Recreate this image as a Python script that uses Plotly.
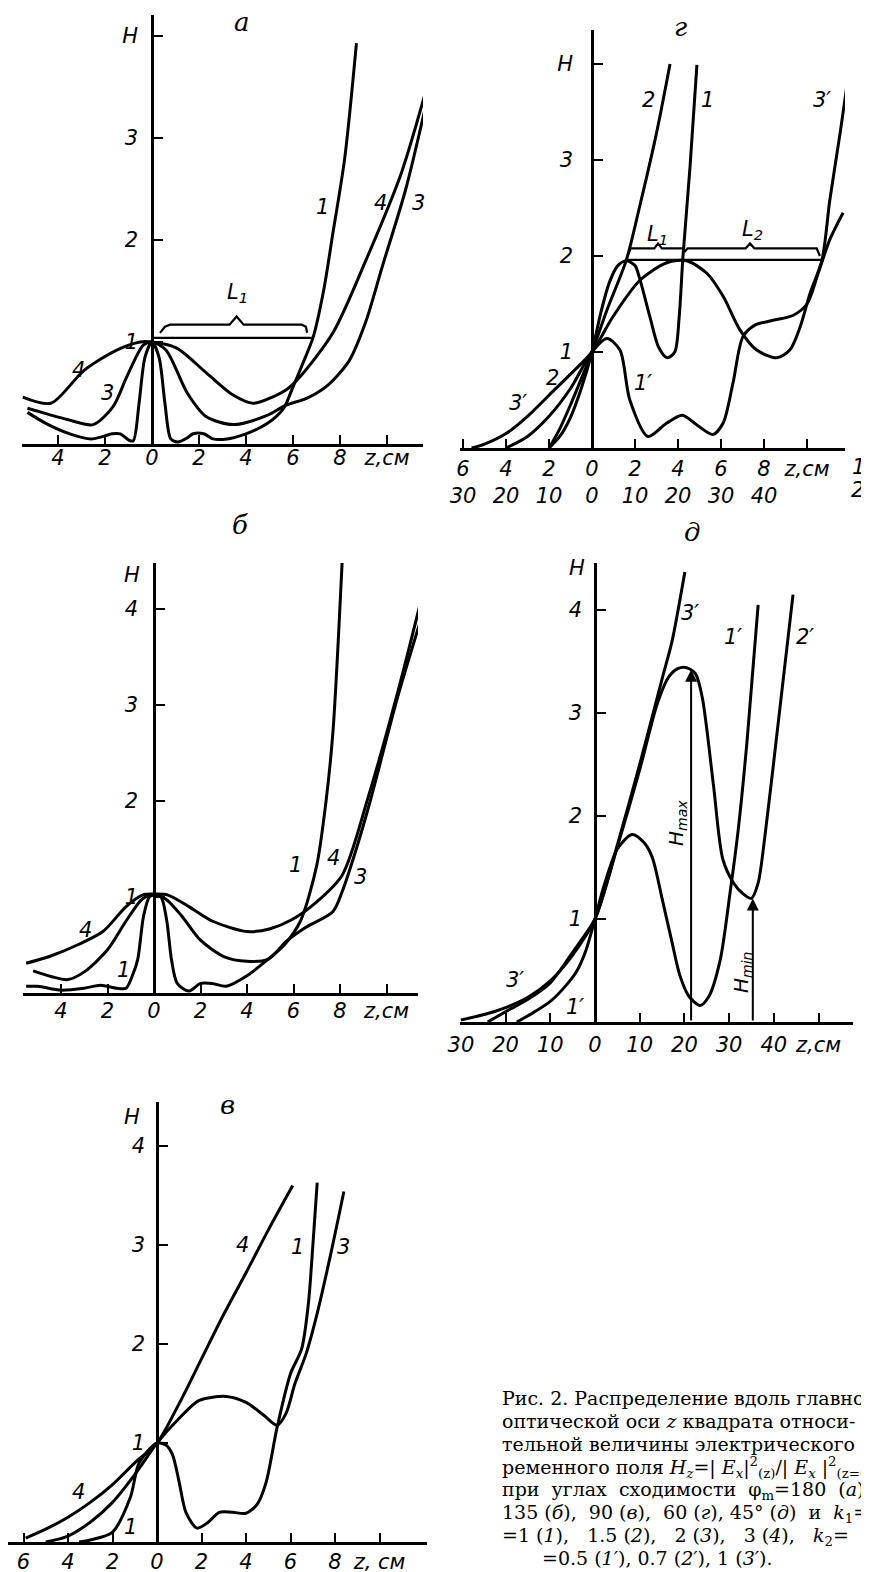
import plotly.graph_objects as go

W, HT = 869, 1572
OX, OY = 8, 8   # page body margin compensation

# ---------------- DATA ----------------
# panel а  (z, cm ; H)
a_z1 = [-5.3, -4.5, -3.5, -2.6, -2.0, -1.7, -1.35, -1.0, -0.8, -0.55, -0.3, 0.0, 0.3, 0.55, 0.8, 1.1, 1.5, 1.75, 2.2, 2.6, 3.2, 4.0, 4.9, 5.6, 6.0, 6.4, 6.86, 7.3, 7.7, 8.2, 8.7]
a_h1 = [0.31, 0.2, 0.1, 0.05, 0.08, 0.1, 0.1, 0.04, 0.03, 0.4, 0.85, 1.0, 0.85, 0.4, 0.05, 0.02, 0.06, 0.1, 0.1, 0.05, 0.05, 0.1, 0.2, 0.35, 0.56, 0.78, 1.05, 1.5, 2.07, 2.8, 3.93]
a_z3 = [-5.3, -4.4, -3.6, -2.5, -1.65, -1.07, -0.37, 0.0, 0.6, 1.5, 2.3, 3.45, 4.9, 5.7, 6.6, 7.5, 8.4, 9.1, 9.8, 10.8, 11.8]
a_h3 = [0.35, 0.29, 0.24, 0.19, 0.37, 0.66, 0.97, 1.0, 0.92, 0.5, 0.27, 0.19, 0.28, 0.38, 0.45, 0.58, 0.82, 1.2, 1.74, 2.5, 3.47]
a_z4 = [-5.5, -4.3, -2.9, -1.5, -0.5, 0.0, 1.05, 2.3, 3.45, 4.3, 5.7, 6.3, 7.7, 9.1, 10.6, 11.7]
a_h4 = [0.46, 0.4, 0.72, 0.92, 1.0, 1.0, 0.94, 0.7, 0.48, 0.4, 0.53, 0.66, 1.09, 1.8, 2.65, 3.5]

# panel г  (curves 1, 2: upper z-scale, cm ; curves 1', 3': lower z-scale, cm)
g_z1 = [-2.0, -1.5, -1.0, -0.5, 0.0, 0.4, 0.8, 1.2, 1.6, 2.0, 2.2, 2.7, 3.1, 3.5, 3.85, 4.05, 4.23, 4.56, 4.88]
g_h1 = [0.0, 0.12, 0.32, 0.62, 1.0, 1.4, 1.72, 1.9, 1.95, 1.9, 1.78, 1.36, 1.05, 0.94, 1.0, 1.35, 1.99, 2.93, 3.99]
g_z2 = [-2.0, -1.5, -1.0, -0.5, 0.0, 0.7, 1.6, 2.2, 3.0, 3.63]
g_h2 = [0.0, 0.2, 0.45, 0.72, 1.0, 1.44, 1.96, 2.5, 3.28, 4.0]
g_z1p = [-20, -15, -10, -5, 0, 3.5, 6.5, 8.8, 13, 17.4, 21, 24.4, 28.1, 30.5, 32.8, 35.1, 37.9, 42.1, 46.7, 50, 52.6, 55.3, 58.4]
g_h1p = [0.0, 0.12, 0.33, 0.62, 1.0, 1.14, 1.02, 0.5, 0.12, 0.26, 0.34, 0.24, 0.14, 0.26, 0.68, 1.16, 1.28, 1.33, 1.38, 1.5, 1.82, 2.17, 2.45]
g_z3p = [-28, -25, -20, -15, -10, -5, 0, 4.9, 11.2, 17.4, 22, 26.7, 30.5, 34.4, 38.3, 43, 46, 48.4, 50.7, 53.5, 55.3, 57.7, 60]
g_h3p = [0.0, 0.04, 0.15, 0.33, 0.55, 0.77, 1.0, 1.37, 1.75, 1.93, 1.95, 1.82, 1.58, 1.23, 1.02, 0.94, 1.02, 1.26, 1.61, 1.96, 2.58, 3.28, 4.0]

# panel б
b_z1 = [-5.5, -5.0, -4.0, -3.0, -2.3, -1.6, -1.2, -0.9, -0.7, -0.45, -0.2, 0.0, 0.3, 0.55, 0.75, 1.0, 1.5, 2.0, 2.5, 3.1, 4.0, 4.9, 5.6, 6.3, 7.0, 7.4, 7.7, 8.1]
b_h1 = [0.07, 0.07, 0.03, 0.05, 0.08, 0.05, 0.05, 0.2, 0.35, 0.8, 1.0, 1.02, 1.0, 0.75, 0.35, 0.1, 0.02, 0.1, 0.1, 0.07, 0.18, 0.35, 0.5, 0.75, 1.33, 2.0, 2.73, 4.53]
b_z3 = [-5.2, -4.4, -3.7, -3.0, -2.0, -1.2, -0.5, 0.0, 0.5, 1.2, 2.0, 3.0, 4.0, 4.9, 5.7, 6.5, 7.7, 8.1, 8.7, 9.3, 10.5, 12.0]
b_h3 = [0.23, 0.17, 0.14, 0.22, 0.45, 0.75, 0.98, 1.02, 0.98, 0.8, 0.55, 0.38, 0.33, 0.35, 0.54, 0.68, 0.85, 1.06, 1.5, 2.0, 3.1, 4.3]
b_z4 = [-5.5, -4.5, -3.3, -2.2, -1.2, -0.5, 0.0, 0.6, 1.5, 2.5, 4.0, 5.0, 5.9, 7.0, 8.1, 9.2, 10.5, 11.7]
b_h4 = [0.31, 0.38, 0.5, 0.64, 0.9, 1.02, 1.03, 1.02, 0.9, 0.75, 0.64, 0.67, 0.76, 0.95, 1.23, 2.03, 3.15, 4.3]

# panel д
d_z1p = [-17.5, -15, -10, -6, -4, -2, 0, 2, 5, 8.3, 11, 12.8, 15, 17.2, 19, 21, 23.5, 25.5, 28, 30.2, 32, 34, 36.5]
d_h1p = [0.0, 0.06, 0.2, 0.38, 0.5, 0.7, 1.0, 1.32, 1.68, 1.82, 1.74, 1.6, 1.2, 0.78, 0.45, 0.25, 0.16, 0.25, 0.6, 1.25, 1.85, 2.72, 4.05]
d_z2p = [-24, -20, -15, -10, -5.6, -3, 0, 5, 10, 14, 16.5, 18.5, 20.5, 22.5, 24, 26.5, 28.6, 31, 33, 35, 36.5, 38, 40.5, 44.3]
d_h2p = [0.0, 0.1, 0.22, 0.38, 0.64, 0.8, 1.0, 1.7, 2.45, 3.1, 3.35, 3.43, 3.44, 3.38, 3.15, 2.3, 1.58, 1.35, 1.25, 1.2, 1.35, 1.8, 2.72, 4.15]
d_z3p = [-30, -25, -20, -15, -10, -5, 0, 5, 10, 15, 17.2, 20.1]
d_h3p = [0.02, 0.07, 0.14, 0.24, 0.4, 0.65, 1.0, 1.72, 2.5, 3.33, 3.69, 4.37]
d_hmax_z, d_hmax = 21.5, 3.42
d_hmin_z, d_hmin = 35.3, 1.2

# panel в
v_z1 = [-3.5, -3.0, -2.0, -1.2, -0.8, 0.0, 0.4, 0.7, 1.0, 1.3, 1.8, 2.3, 2.8, 3.4, 4.0, 4.5, 4.9, 5.4, 6.0, 6.5, 6.8, 7.0, 7.2]
v_h1 = [0.0, 0.02, 0.1, 0.45, 0.8, 1.0, 0.98, 0.88, 0.6, 0.3, 0.14, 0.2, 0.3, 0.3, 0.29, 0.38, 0.6, 1.16, 1.7, 1.95, 2.4, 2.98, 3.63]
v_z3 = [-5.0, -4.0, -3.0, -2.0, -1.0, 0.0, 1.0, 1.9, 3.1, 4.0, 4.8, 5.4, 5.8, 6.2, 6.7, 7.2, 7.8, 8.4]
v_h3 = [0.0, 0.06, 0.2, 0.4, 0.68, 1.0, 1.25, 1.43, 1.47, 1.41, 1.28, 1.18, 1.3, 1.6, 1.9, 2.31, 2.9, 3.54]
v_z4 = [-5.9, -5.0, -4.0, -3.0, -2.0, -1.0, 0.0, 1.0, 2.0, 3.0, 4.0, 5.0, 6.1]
v_h4 = [0.04, 0.13, 0.25, 0.4, 0.58, 0.8, 1.0, 1.4, 1.85, 2.3, 2.72, 3.15, 3.6]

# tick labels
xt_cm = [-4, -2, 0, 2, 4, 6, 8, 10]
xl_cm = ['4', '2', '0', '2', '4', '6', '8', 'z,см']
xt_v = [-6, -4, -2, 0, 2, 4, 6, 8, 10]
xl_v = ['6', '4', '2', '0', '2', '4', '6', '8', 'z, см']
xt_g = [-6, -4, -2, 0, 2, 4, 6, 8, 10]
xl_g = ['6<br>30', '4<br>20', '2<br>10', '0<br>0', '2<br>10', '4<br>20', '6<br>30', '8<br>40', 'z,см<br> ']
xt_d = [-30, -20, -10, 0, 10, 20, 30, 40, 50]
xl_d = ['30', '20', '10', '0', '10', '20', '30', '40', 'z,см']
yt = [1, 2, 3, 4]
yl_h = ['1', '2', '3', 'H']
yl_n = ['1', '2', '3', '4']

# ---------------- LAYOUT ----------------
P = {
    1: dict(left=22, right=423, z0=152, ppx=23.5, y0=444, ppy=102, top=15, xso=-7, yso=9),     # а
    2: dict(left=460, right=845, z0=592, ppx=21.5, y0=448, ppy=96, top=30, xso=0, yso=14),     # г
    3: dict(left=23, right=418, z0=154, ppx=23.25, y0=993, ppy=96, top=563, xso=-3, yso=11),   # б
    4: dict(left=460, right=853, z0=595, ppx=4.47, y0=1022, ppy=103, top=563, xso=2, yso=8),   # д
    5: dict(left=8, right=427, z0=157, ppx=22.25, y0=1542, ppy=99, top=1102, xso=-1, yso=7),   # в
}

FS = 21
TF = dict(family='DejaVu Sans', size=FS, color='black', style='italic')
layout = dict(template='none', width=W, height=HT, margin=dict(l=0, r=0, t=0, b=0, pad=0, autoexpand=False),
              paper_bgcolor='white', plot_bgcolor='white', showlegend=False)


def setup(n, xtv, xtt, ytt):
    p = P[n]
    xs = '' if n == 1 else str(n)
    L, R, Z0 = p['left'] - OX, p['right'] - OX, p['z0'] - OX
    Y0, T = p['y0'] - OY, p['top'] - OY
    xr = [(L - Z0) / p['ppx'], (R - Z0) / p['ppx']]
    yr = [0, (Y0 - T) / p['ppy']]
    layout['xaxis' + xs] = dict(domain=[max(L, 0) / W, R / W], range=xr, anchor='y' + xs,
                                showline=True, linewidth=2.5, linecolor='black', ticks='inside',
                                ticklen=9, tickwidth=2, tickcolor='black', tickvals=xtv, ticktext=xtt,
                                tickfont=TF, showgrid=False, zeroline=False, automargin=False,
                                ticklabelstandoff=p['xso'])
    layout['yaxis' + xs] = dict(domain=[1 - Y0 / HT, 1 - T / HT], range=yr, anchor='free',
                                position=Z0 / W, showline=True, linewidth=2.5, linecolor='black',
                                ticks='inside', ticklen=9, tickwidth=2, tickcolor='black',
                                tickvals=yt, ticktext=ytt, tickfont=TF, showgrid=False, zeroline=False,
                                automargin=False, ticklabelstandoff=p['yso'])
    return xr


setup(1, xt_cm, xl_cm, yl_h)
xr2 = setup(2, xt_g, xl_g, yl_h)
setup(3, xt_cm, xl_cm, yl_n)
setup(4, xt_d, xl_d, yl_n)
setup(5, xt_v, xl_v, yl_n)
# lower z-scale of panel г (5x)
layout['xaxis6'] = dict(overlaying='x2', anchor='y2', range=[xr2[0] * 5, xr2[1] * 5], visible=False,
                        automargin=False)

fig = go.Figure()
fig.update_layout(**layout)


def curve(x, y, n, w=3, shape='spline'):
    xs = '' if n == 1 else str(n)
    fig.add_trace(go.Scatter(x=x, y=y, mode='lines', xaxis='x' + xs, yaxis='y' + (xs if n != 6 else '2'),
                             line=dict(color='black', width=w, shape=shape, smoothing=0.8),
                             hoverinfo='skip'))


curve(a_z1, a_h1, 1); curve(a_z3, a_h3, 1); curve(a_z4, a_h4, 1)
curve(g_z1, g_h1, 2); curve(g_z2, g_h2, 2)
curve(g_z1p, g_h1p, 6); curve(g_z3p, g_h3p, 6)
curve(b_z1, b_h1, 3); curve(b_z3, b_h3, 3); curve(b_z4, b_h4, 3)
curve(d_z1p, d_h1p, 4); curve(d_z2p, d_h2p, 4); curve(d_z3p, d_h3p, 4)
curve(v_z1, v_h1, 5); curve(v_z3, v_h3, 5); curve(v_z4, v_h4, 5)

# brackets L1, L2
curve([0.04, 6.8], [1.04, 1.04], 1, 2.2, 'linear')
curve([0.34, 0.55, 0.77, 3.3, 3.6, 3.9, 6.37, 6.55, 6.6],
      [1.09, 1.15, 1.17, 1.17, 1.25, 1.17, 1.17, 1.15, 1.09], 1, 2.2, 'linear')
curve([1.53, 10.7], [1.96, 1.96], 2, 2.2, 'linear')
curve([1.65, 1.8, 2.9, 3.07, 3.25, 4.2, 4.33, 4.45, 7.15, 7.35, 7.55, 10.45, 10.6],
      [2.0, 2.08, 2.08, 2.13, 2.08, 2.08, 2.05, 2.08, 2.08, 2.13, 2.08, 2.08, 2.0], 2, 2.2, 'linear')

# Hmax / Hmin arrows
for zz, hh in [(d_hmax_z, d_hmax), (d_hmin_z, d_hmin)]:
    fig.add_annotation(x=zz, y=hh, ax=zz, ay=0, xref='x4', yref='y4', axref='x4', ayref='y4',
                       text='', showarrow=True, arrowhead=2, arrowsize=1.2, arrowwidth=2, arrowcolor='black')


def ann(px, py, text, size=FS, fam='DejaVu Sans', style='italic', angle=0, xanchor='center'):
    fig.add_annotation(x=(px - OX) / W, y=1 - (py - OY) / HT, xref='paper', yref='paper', text=text,
                       showarrow=False, xanchor=xanchor, yanchor='middle', textangle=angle,
                       font=dict(family=fam, size=size, color='black', style=style))


TT = 'DejaVu Serif'
# panel а
ann(242, 22, 'а', 26, TT)
ann(78, 370, '4'); ann(107, 393, '3'); ann(322, 207, '1'); ann(380, 203, '4'); ann(418, 203, '3')
ann(237, 293, 'L<sub>1</sub>')
# panel г
ann(680, 27, 'г', 26, TT)
ann(648, 100, '2'); ann(707, 100, '1'); ann(822, 100, '3′')
ann(657, 235, 'L<sub>1</sub>'); ann(752, 230, 'L<sub>2</sub>')
ann(552, 378, '2'); ann(518, 403, '3′'); ann(643, 383, '1′')
ann(858, 467, '1'); ann(857, 490, '2')
# panel б
ann(240, 525, 'б', 26, TT); ann(132, 575, 'H')
ann(85, 930, '4'); ann(123, 970, '1'); ann(295, 865, '1'); ann(333, 858, '4'); ann(360, 877, '3')
# panel д
ann(692, 532, 'д', 26, TT); ann(577, 568, 'H')
ann(690, 613, '3′'); ann(733, 637, '1′'); ann(805, 637, '2′'); ann(515, 980, '3′'); ann(575, 1007, '1′')
ann(677, 823, 'H<sub>max</sub>', 20, angle=-90); ann(742, 973, 'H<sub>min</sub>', 20, angle=-90)
# panel в
ann(227, 1105, 'в', 26, TT); ann(132, 1117, 'H')
ann(243, 1245, '4'); ann(297, 1247, '1'); ann(343, 1247, '3'); ann(78, 1492, '4'); ann(130, 1527, '1')

# caption
cap = [
    (500, 1398, 'Рис. 2. Распределение вдоль главной'),
    (500, 1421, 'оптической оси <i>z</i> квадрата относи-'),
    (500, 1444, 'тельной величины электрического пе-'),
    (500, 1467, 'ременного поля <i>H<sub>z</sub></i>=| <i>E<sub>x</sub></i>|<sup>2</sup><sub>(z)</sub>/| <i>E<sub>x</sub></i> |<sup>2</sup><sub>(z=0)</sub>'),
    (500, 1490, 'при  углах  сходимости  φ<sub>m</sub>=180  (<i>а</i>),'),
    (500, 1513, '135 (<i>б</i>),  90 (<i>в</i>),  60 (<i>г</i>), 45° (<i>д</i>)  и  <i>k</i><sub>1</sub>='),
    (500, 1536, '=1 (<i>1</i>),   1.5 (<i>2</i>),   2 (<i>3</i>),   3 (<i>4</i>),   <i>k</i><sub>2</sub>='),
    (540, 1558, '=0.5 (<i>1′</i>), 0.7 (<i>2′</i>), 1 (<i>3′</i>).'),
]
for px, py, t in cap:
    ann(px, py, t, 19, TT, 'normal', xanchor='left')

fig.write_html('out.html')
